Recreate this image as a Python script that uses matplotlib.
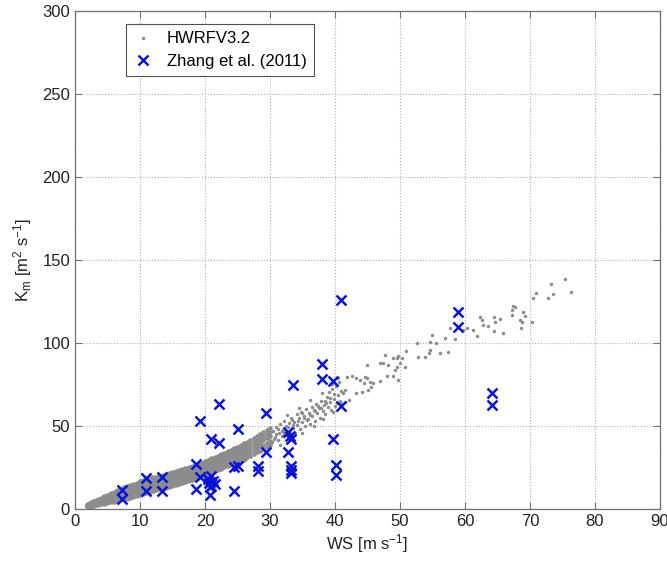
import matplotlib
matplotlib.use("Agg")
import matplotlib.pyplot as plt

plt.rcParams['font.family'] = ['Liberation Sans', 'DejaVu Sans']
plt.rcParams['mathtext.default'] = 'regular'

# ---------------- data ----------------
# HWRFV3.2: dense band, each column x with its y values
band_x = [2.0, 2.5, 3.0, 3.5, 4.0, 4.5, 5.0, 5.5, 6.0, 6.5, 7.0, 7.5, 8.0, 8.5, 9.0, 9.5,
          10.0, 10.5, 11.0, 11.5, 12.0, 12.5, 13.0, 13.5, 14.0, 14.5, 15.0, 15.5, 16.0, 16.5,
          17.0, 17.5, 18.0, 18.5, 19.0, 19.5, 20.0, 20.5, 21.0, 21.5, 22.0, 22.5, 23.0, 23.5,
          24.0, 24.5, 25.0, 25.5, 26.0, 26.5, 27.0, 27.5, 28.0, 28.5, 29.0, 29.5, 30.0]
band_y = [
    [1.7, 2.0, 2.2, 2.5, 2.7], [2.1, 2.5, 2.8, 3.2, 3.5], [2.6, 3.1, 3.5, 4.0, 4.4],
    [3.0, 3.6, 4.1, 4.7, 5.2], [3.4, 4.1, 4.8, 5.5, 6.2], [3.7, 4.6, 5.4, 6.3, 7.1],
    [4.1, 5.1, 6.1, 7.1, 8.1], [4.6, 5.7, 6.8, 7.9, 9.0], [5.1, 6.3, 7.5, 8.7, 9.9],
    [5.5, 6.8, 8.1, 9.4, 10.7], [6.0, 7.4, 8.8, 10.2, 11.6], [6.4, 7.9, 9.4, 10.9, 12.4],
    [6.9, 8.5, 10.0, 11.6, 13.1], [7.4, 9.0, 10.6, 12.2, 13.8], [7.9, 9.6, 11.2, 12.9, 14.5],
    [8.4, 10.1, 11.8, 13.5, 15.2], [9.0, 10.8, 12.5, 14.3, 16.0], [9.6, 11.4, 13.1, 14.9, 16.6],
    [10.2, 12.0, 13.7, 15.5, 17.2], [10.8, 12.6, 14.3, 16.1, 17.8], [11.4, 13.2, 14.9, 16.7, 18.4],
    [11.9, 13.7, 15.4, 17.2, 18.9], [12.4, 14.2, 15.9, 17.7, 19.4], [12.9, 14.7, 16.4, 18.2, 19.9],
    [13.3, 15.1, 16.9, 18.7, 20.5], [13.8, 15.6, 17.4, 19.2, 21.0], [14.4, 16.2, 18.0, 19.8, 21.6],
    [14.9, 16.7, 18.5, 20.3, 22.1], [15.5, 17.3, 19.1, 20.9, 22.7], [16.1, 17.9, 19.7, 21.5, 23.3],
    [16.7, 18.5, 20.3, 22.1, 23.9], [17.4, 19.2, 21.0, 22.8, 24.6], [18.0, 19.8, 21.6, 23.4, 25.2],
    [18.7, 20.5, 22.3, 24.1, 25.9], [19.4, 21.2, 23.0, 24.8, 26.6], [20.2, 22.0, 23.8, 25.6, 27.4],
    [21.0, 22.8, 24.6, 26.4, 28.2], [21.7, 23.6, 25.4, 27.3, 29.1], [22.5, 24.4, 26.2, 28.1, 29.9],
    [23.3, 25.2, 27.0, 28.9, 30.7], [24.0, 25.9, 27.8, 29.7, 31.6], [24.8, 26.7, 28.6, 30.5, 32.4],
    [25.6, 27.5, 29.4, 31.3, 33.2], [26.3, 28.3, 30.2, 32.2, 34.1], [27.0, 29.0, 31.0, 33.0, 35.0],
    [27.8, 29.9, 31.9, 34.0, 36.0], [28.6, 30.7, 32.8, 34.9, 37.0], [29.4, 31.6, 33.7, 35.9, 38.0],
    [30.3, 32.5, 34.7, 36.9, 39.1], [31.2, 33.5, 35.7, 38.0, 40.2], [32.2, 34.5, 36.8, 39.1, 41.4],
    [33.2, 35.6, 37.9, 40.3, 42.6], [34.2, 36.6, 39.0, 41.4, 43.8], [35.2, 37.7, 40.1, 42.6, 45.0],
    [36.3, 38.8, 41.3, 43.8, 46.3], [37.4, 40.0, 42.5, 45.1, 47.6], [38.5, 41.1, 43.7, 46.3, 48.9],
]

# HWRFV3.2: scattered points beyond the dense band
hwrf_x = [30.3, 30.5, 30.8, 31.0, 31.2, 31.4, 31.6, 31.8, 32.0, 32.2, 32.3, 32.5, 32.7, 32.9,
          33.1, 33.3, 33.5, 33.7, 33.9, 34.1, 34.2, 34.4, 34.6, 34.8, 35.0, 35.2, 35.4, 35.6,
          35.8, 36.0, 36.2, 36.4, 36.5, 36.7, 36.9, 37.1, 37.3, 37.5, 37.7, 37.9, 38.1, 38.3,
          38.5, 38.7, 38.9, 39.1, 39.2, 39.4, 39.6, 39.8, 40.0, 40.2, 40.4, 40.6, 40.8, 41.0,
          31.5, 33.0, 35.0, 36.8, 38.2, 32.6, 34.5, 36.2, 38.0, 39.5, 40.5,
          30.9, 31.9, 32.8, 33.6, 34.3, 35.3, 36.1, 37.0, 37.8, 38.6, 39.3, 30.6, 31.3, 32.1,
          33.4, 34.9, 35.7, 37.4, 38.4, 39.9,
          41.8, 42.6, 43.3, 43.8, 44.6, 44.9, 44.4, 45.4, 45.9, 45.6, 45.1, 44.1, 43.3, 41.5,
          41.3, 42.1, 41.5, 41.0, 40.3, 39.7, 44.9, 46.9, 47.4, 47.7, 48.2, 49.0, 49.5, 49.7,
          50.3, 50.0, 49.5, 50.8, 49.2, 48.0, 49.0, 49.7, 46.9, 51.0, 52.6, 52.8, 53.8, 54.4,
          54.6, 54.6, 54.9, 55.6, 56.9, 56.2, 57.4, 57.7, 58.5, 59.7, 60.3, 61.3, 61.8, 62.3,
          62.6, 62.8, 63.6, 64.4, 64.6, 64.4, 65.4, 65.9, 67.2, 67.4, 67.7, 67.3, 68.5, 68.7,
          69.0, 69.2, 68.6, 70.3, 70.5, 71.0, 72.8, 73.3, 73.6, 75.4, 76.3]
hwrf_y = [40.2, 46.8, 43.1, 49.5, 41.7, 45.9, 51.0, 43.8, 47.5, 53.2, 44.6, 49.8, 42.9, 51.7,
          46.4, 55.0, 48.7, 52.3, 45.8, 57.1, 50.4, 54.6, 47.9, 58.5, 52.6, 56.2, 49.8, 60.1,
          54.3, 57.9, 51.5, 61.7, 55.8, 59.4, 53.2, 63.5, 57.6, 61.0, 55.1, 65.3, 59.2, 62.8,
          57.0, 67.4, 61.5, 70.2, 64.6, 59.8, 72.5, 66.3, 62.1, 74.0, 68.7, 76.5, 65.2, 71.3,
          38.7, 41.5, 46.0, 50.1, 54.2, 56.8, 61.0, 65.5, 69.8, 75.5, 79.0,
          44.9, 47.2, 49.1, 50.8, 52.9, 54.9, 56.7, 59.1, 60.8, 63.9, 66.8, 42.4, 48.3, 45.7,
          53.8, 58.1, 53.5, 62.3, 64.9, 69.1,
          79.7, 80.3, 78.7, 77.7, 79.7, 78.7, 75.7, 76.7, 75.7, 73.7, 71.7, 70.7, 69.7, 71.7,
          69.7, 65.7, 64.7, 63.7, 63.7, 58.6, 86.8, 87.8, 87.8, 92.8, 86.8, 90.8, 90.8, 92.2,
          90.8, 87.8, 85.7, 85.7, 83.7, 80.1, 80.1, 77.7, 77.3, 95.4, 99.8, 91.8, 91.4, 93.8,
          95.8, 100.8, 104.8, 99.8, 102.8, 94.2, 94.4, 108.8, 102.2, 107.8, 108.8, 107.8, 104.2, 115.5,
          113.9, 110.8, 110.2, 115.5, 112.9, 107.4, 114.3, 105.8, 119.9, 122.3, 121.5, 116.9, 113.9, 112.4,
          118.9, 116.3, 109.2, 112.4, 126.9, 130.3, 126.9, 135.5, 129.3, 138.4, 130.7]

# Zhang et al. (2011) observations
zhang_x = [7.2, 7.2, 10.9, 10.9, 13.4, 13.4, 18.6, 18.6, 19.3, 19.2, 20.5, 20.7, 20.9, 21.0,
           21.2, 21.5, 20.6, 20.8, 21.0, 20.7, 22.2, 22.2, 24.4, 24.4, 25.1, 25.1, 28.2, 28.2,
           29.4, 29.4, 32.8, 33.1, 33.3, 32.8, 33.3, 33.3, 33.3, 33.5, 38.0, 38.0, 39.7, 39.7,
           40.1, 40.1, 40.9, 40.9, 59.0, 59.0, 64.2, 64.2]
zhang_y = [11.4, 6.0, 18.7, 10.8, 19.3, 10.8, 26.9, 11.9, 53.0, 19.5, 18.0, 16.0, 14.0, 20.0,
           17.0, 15.0, 15.5, 13.0, 42.3, 8.2, 63.3, 39.6, 11.0, 25.5, 25.9, 48.0, 25.9, 23.1,
           58.0, 34.1, 46.4, 44.0, 42.3, 34.1, 26.0, 23.5, 21.7, 74.7, 87.2, 78.1, 77.3, 42.2,
           26.5, 20.5, 125.9, 62.2, 118.9, 109.4, 69.7, 62.7]

x_ticks = [0, 10, 20, 30, 40, 50, 60, 70, 80, 90]
y_ticks = [0, 50, 100, 150, 200, 250, 300]

# ---------------- figure ----------------
fig = plt.figure(figsize=(6.67, 5.61), dpi=100)
ax = fig.add_axes([0.1124, 0.0927, 0.8771, 0.8877])

solid_x, solid_y, loose_x, loose_y = [], [], [], []
for xv, ys in zip(band_x, band_y):
    for yv in ys:
        if xv <= 26.0:
            solid_x.append(xv)
            solid_y.append(yv)
        else:
            loose_x.append(xv)
            loose_y.append(yv)

gray = '#8c8c8c'
# dense part of the model cloud (many overlapping dots)
ax.plot(solid_x, solid_y, linestyle='none', marker='o', markersize=4.2,
        markerfacecolor=gray, markeredgecolor=gray, markeredgewidth=0.3, zorder=2)
ax.plot(loose_x, loose_y, linestyle='none', marker='o', markersize=3.0,
        markerfacecolor=gray, markeredgecolor=gray, markeredgewidth=0.3, zorder=2)
ax.plot(hwrf_x, hwrf_y, linestyle='none', marker='o', markersize=2.2,
        markerfacecolor=gray, markeredgecolor=gray, markeredgewidth=0.3,
        label='HWRFV3.2', zorder=2)
ax.plot(zhang_x, zhang_y, linestyle='none', marker='x', markersize=7,
        markeredgewidth=1.8, color='#0a14d8', label='Zhang et al. (2011)', zorder=3)

ax.set_xlim(0, 90)
ax.set_ylim(0, 300)
ax.set_xticks(x_ticks)
ax.set_yticks(y_ticks)
ax.grid(True, linestyle=':', color='#b0b0b0', linewidth=0.8)
ax.set_axisbelow(True)
ax.tick_params(direction='in', top=True, right=True, length=5, width=0.8,
               color='#707070', labelsize=12, labelcolor='#222222')
for s in ax.spines.values():
    s.set_color('#707070')
    s.set_linewidth(0.9)

ax.set_xlabel('WS [m s$^{-1}$]', fontsize=12, color='#222222', labelpad=2)
ax.set_ylabel('K$_m$ [m$^2$ s$^{-1}$]', fontsize=12, color='#222222', labelpad=6)

leg = ax.legend(loc='upper left', bbox_to_anchor=(0.087, 0.974), borderaxespad=0,
                fontsize=12, fancybox=False, framealpha=1, edgecolor='#505050',
                handlelength=1.2, handletextpad=0.8, borderpad=0.45, labelspacing=0.45,
                markerscale=1.0)
leg.get_frame().set_linewidth(0.8)

fig.savefig('out.png', dpi=100)
